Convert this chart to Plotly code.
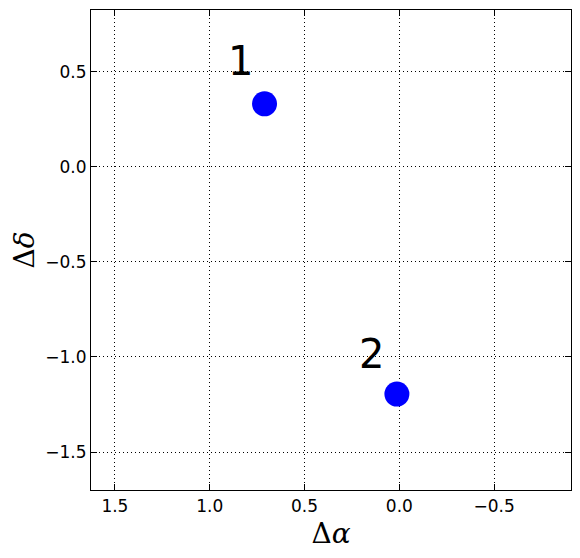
import plotly.graph_objects as go

labels = ["1", "2"]
d_alpha = [0.711, 0.013]
d_delta = [0.332, -1.195]
label_x = [0.837, 0.147]
label_y = [0.56, -0.985]

x_ticks = [1.5, 1.0, 0.5, 0.0, -0.5]
x_ticktext = ["1.5", "1.0", "0.5", "0.0", "\u22120.5"]
y_ticks = [0.5, 0.0, -0.5, -1.0, -1.5]
y_ticktext = ["0.5", "0.0", "\u22120.5", "\u22121.0", "\u22121.5"]

fig = go.Figure()
fig.add_trace(go.Scatter(
    x=d_alpha, y=d_delta, mode="markers",
    marker=dict(color="#0000ff", size=25, line=dict(width=0)),
    showlegend=False, hoverinfo="skip",
))
for t, lx, ly in zip(labels, label_x, label_y):
    fig.add_annotation(x=lx, y=ly, xref="x", yref="y", text=t, showarrow=False,
                       font=dict(family="DejaVu Sans", size=40, color="black"))

axis_common = dict(
    showgrid=True, gridcolor="black", griddash="1px,3px", gridwidth=1,
    zeroline=False, showline=True, linecolor="black", linewidth=1.2, mirror="ticks",
    ticks="inside", ticklen=6, tickcolor="black",
    tickfont=dict(family="DejaVu Sans", size=17, color="black"),
)
fig.update_xaxes(range=[1.626, -0.905], tickvals=x_ticks, ticktext=x_ticktext,
                 title=dict(text="\u0394<i>\u03b1</i>", font=dict(family="DejaVu Serif", size=28, color="black"), standoff=8),
                 **axis_common)
fig.update_yaxes(range=[-1.7, 0.826], tickvals=y_ticks, ticktext=y_ticktext,
                 title=dict(text="\u0394<i>\u03b4</i>", font=dict(family="DejaVu Serif", size=28, color="black"), standoff=10),
                 **axis_common)
fig.update_layout(
    width=572, height=550,
    margin=dict(l=83, r=9, t=2, b=68),
    plot_bgcolor="white", paper_bgcolor="white",
)
fig.write_html("out.html")
